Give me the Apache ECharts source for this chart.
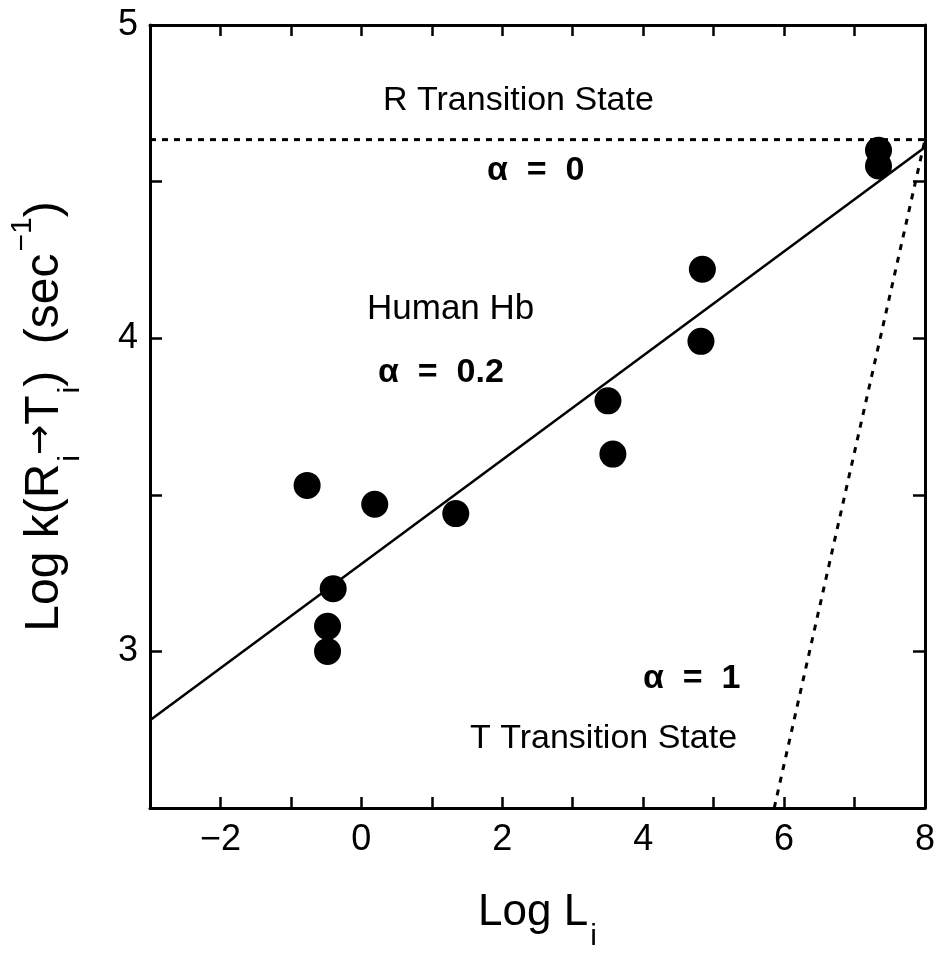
<!DOCTYPE html>
<html>
<head>
<meta charset="utf-8">
<script src="https://cdn.jsdelivr.net/npm/echarts@6.0.0/dist/echarts.min.js"></script>
<style>
  html, body { margin: 0; padding: 0; background: #fff; }
  #chart { width: 939px; height: 957px; }
</style>
</head>
<body>
<div id="chart"></div>
<script>
// --- Data ---

const logL = [-0.77, -0.40, -0.48, -0.48, 0.19, 1.34, 3.50, 3.57, 4.84, 4.82, 7.34, 7.34];
const logK = [3.53, 3.20, 3.08, 3.00, 3.47, 3.44, 3.80, 3.63, 4.22, 3.99, 4.60, 4.55];

// fitted line (alpha = 0.2) and the two limiting lines
const fitX = [-3, 8];
const fitY = [2.78, 4.61];
const rStateX = [-3, 8];
const rStateY = [4.634, 4.634];
const tStateX = [5.86, 8];
const tStateY = [2.5, 4.634];

const xTicks = [-2, 0, 2, 4, 6, 8];
const yTicks = [3, 4, 5];

// --- Helpers ---

const zip = (xs, ys) => xs.map((x, i) => [x, ys[i]]);
const FONT = 'Liberation Sans';
const minus = (v) => String(v).replace('-', '\u2212');

const chart = echarts.init(document.getElementById('chart'), null, { renderer: 'canvas' });

const axisLine = { show: true, onZero: false, lineStyle: { color: '#000', width: 3 } };
const tick = (len) => ({ show: true, inside: true, length: len, lineStyle: { color: '#000', width: 2.5 } });
const sub = { fontSize: 30, fontFamily: FONT, color: '#000', verticalAlign: 'bottom', lineHeight: 20, padding: [0, 0, -14, 2] };

const option = {
    backgroundColor: '#fff',
    animation: false,
    grid: { left: 150, right: 14, top: 25, bottom: 146 },
    xAxis: [
        {
            type: 'value', min: -3, max: 8, interval: 1,
            axisLine, axisTick: tick(11), splitLine: { show: false },
            axisLabel: {
                color: '#000', fontSize: 36, fontFamily: FONT, margin: 14,
                formatter: (v) => xTicks.includes(v) ? minus(v) : ''
            },
            name: 'Log L{sub|i}', nameLocation: 'middle', nameGap: 80,
            nameTextStyle: {
                color: '#000', fontSize: 44, fontFamily: FONT, lineHeight: 50,
                rich: { sub }
            }
        },
        {
            type: 'value', position: 'top', min: -3, max: 8, interval: 1,
            axisLine, axisTick: tick(11), axisLabel: { show: false }, splitLine: { show: false }
        }
    ],
    yAxis: [
        {
            type: 'value', min: 2.5, max: 5, interval: 0.5,
            axisLine, axisTick: tick(12), splitLine: { show: false },
            axisLabel: {
                color: '#000', fontSize: 36, fontFamily: FONT, margin: 12,
                formatter: (v) => yTicks.includes(v) ? String(v) : ''
            },
            name: 'Log k(R{sub|i}{arrow|\u2192}T{sub|i})  (sec{sup|\u22121})', nameLocation: 'middle', nameGap: 78, nameRotate: 90,
            nameTextStyle: {
                color: '#000', fontSize: 48, fontFamily: FONT, lineHeight: 54,
                rich: {
                    sub,
                    arrow: { fontSize: 36, fontFamily: 'DejaVu Sans', color: '#000', padding: [0, 0, 6, 0] },
                    sup: { fontSize: 30, fontFamily: FONT, color: '#000', verticalAlign: 'top', lineHeight: 20, padding: [-10, 0, 0, 2] }
                }
            }
        },
        {
            type: 'value', position: 'right', min: 2.5, max: 5, interval: 0.5,
            axisLine, axisTick: tick(12), axisLabel: { show: false }, splitLine: { show: false }
        }
    ],
    series: [
        {
            type: 'line', data: zip(fitX, fitY), symbol: 'none',
            lineStyle: { color: '#000', width: 2.5 }, z: 2
        },
        {
            type: 'line', data: zip(rStateX, rStateY), symbol: 'none',
            lineStyle: { color: '#000', width: 3, type: [6, 6] }, z: 2
        },
        {
            type: 'line', data: zip(tStateX, tStateY), symbol: 'none',
            lineStyle: { color: '#000', width: 3, type: [6, 7] }, z: 2
        },
        {
            type: 'scatter', data: zip(logL, logK), symbol: 'circle', symbolSize: 27,
            itemStyle: { color: '#000', opacity: 1 }, z: 3
        }
    ],
    graphic: [
        { type: 'text', left: 383, top: 84, style: { text: 'R Transition State', font: `34px "${FONT}"`, fill: '#000' } },
        { type: 'text', left: 487, top: 154, style: { text: '\u03b1  =  0', font: `bold 34px "${FONT}"`, fill: '#000' } },
        { type: 'text', left: 367, top: 292, style: { text: 'Human Hb', font: `35px "${FONT}"`, fill: '#000' } },
        { type: 'text', left: 378, top: 356, style: { text: '\u03b1  =  0.2', font: `bold 34px "${FONT}"`, fill: '#000' } },
        { type: 'text', left: 643, top: 662, style: { text: '\u03b1  =  1', font: `bold 34px "${FONT}"`, fill: '#000' } },
        { type: 'text', left: 470, top: 722, style: { text: 'T Transition State', font: `34px "${FONT}"`, fill: '#000' } }
    ]
};

chart.setOption(option);
</script>
</body>
</html>
